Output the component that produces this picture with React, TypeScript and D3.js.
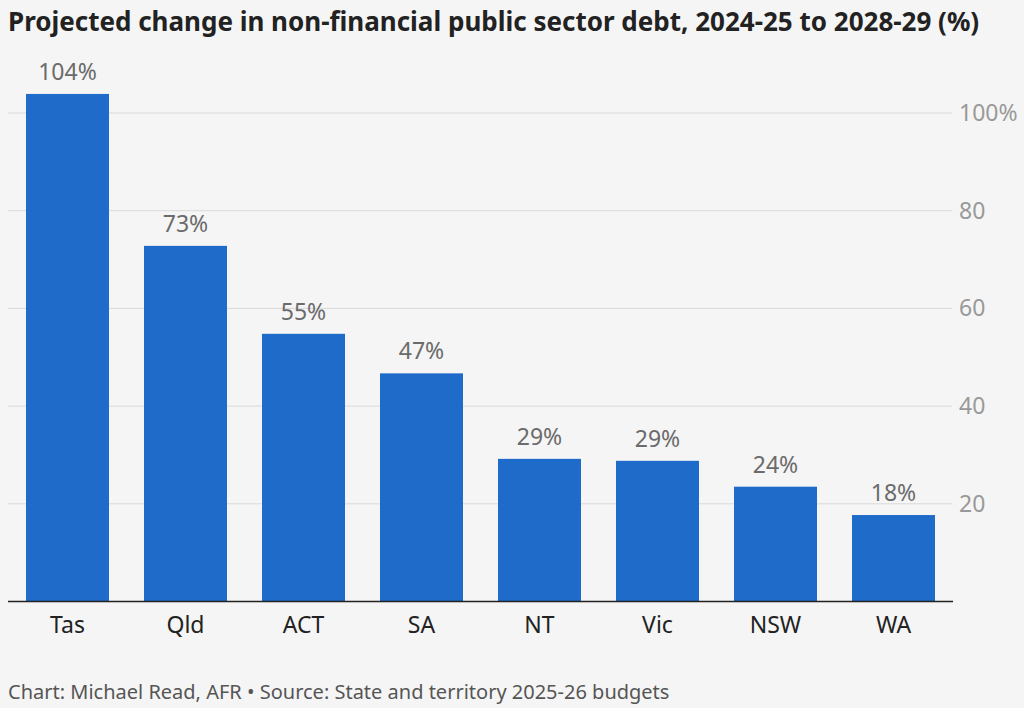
import React from "react";
import * as d3 from "d3";

const categories = ["Tas", "Qld", "ACT", "SA", "NT", "Vic", "NSW", "WA"];
const values = [103.9, 72.8, 54.8, 46.7, 29.2, 28.8, 23.5, 17.7];
const valueLabels = ["104%", "73%", "55%", "47%", "29%", "29%", "24%", "18%"];
const yTicks = [20, 40, 60, 80, 100];
const yTickLabels = ["20", "40", "60", "80", "100%"];

const W = 1024;
const H = 708;
const FONT = "'Noto Sans', 'Open Sans', sans-serif";

export default function App() {
  const x = d3
    .scaleBand<string>()
    .domain(categories)
    .range([8.5, 952.5])
    .paddingInner(0.2966)
    .paddingOuter(0.1483);
  const y = d3.scaleLinear().domain([0, 100]).range([601.5, 113]);

  return (
    <svg
      width={W}
      height={H}
      style={{ position: "absolute", left: 0, top: 0, background: "#f5f5f5" }}
      fontFamily={FONT}
    >
      <rect x={0} y={0} width={W} height={H} fill="#f5f5f5" />
      <text x={8} y={31} fontSize={26} fontWeight={700} fill="#222">
        Projected change in non-financial public sector debt, 2024-25 to 2028-29 (%)
      </text>
      {yTicks.map((t, i) => (
        <g key={t}>
          <line x1={8} x2={952} y1={y(t)} y2={y(t)} stroke="#d9d9d9" strokeWidth={1} />
          <text x={959} y={y(t) + 8} fontSize={23} fill="#999">
            {yTickLabels[i]}
          </text>
        </g>
      ))}
      {categories.map((c, i) => (
        <g key={c}>
          <rect
            x={x(c)}
            y={y(values[i])}
            width={x.bandwidth()}
            height={y(0) - y(values[i])}
            fill="#1f6bc9"
          />
          <text
            x={(x(c) as number) + x.bandwidth() / 2}
            y={y(values[i]) - 14}
            fontSize={23}
            fill="#6b6b6b"
            textAnchor="middle"
          >
            {valueLabels[i]}
          </text>
          <text
            x={(x(c) as number) + x.bandwidth() / 2}
            y={633}
            fontSize={23}
            fill="#222"
            textAnchor="middle"
          >
            {c}
          </text>
        </g>
      ))}
      <line x1={8} x2={953} y1={601.5} y2={601.5} stroke="#222" strokeWidth={1.5} />
      <text x={8} y={699} fontSize={20} fill="#555">
        Chart: Michael Read, AFR • Source: State and territory 2025-26 budgets
      </text>
    </svg>
  );
}
